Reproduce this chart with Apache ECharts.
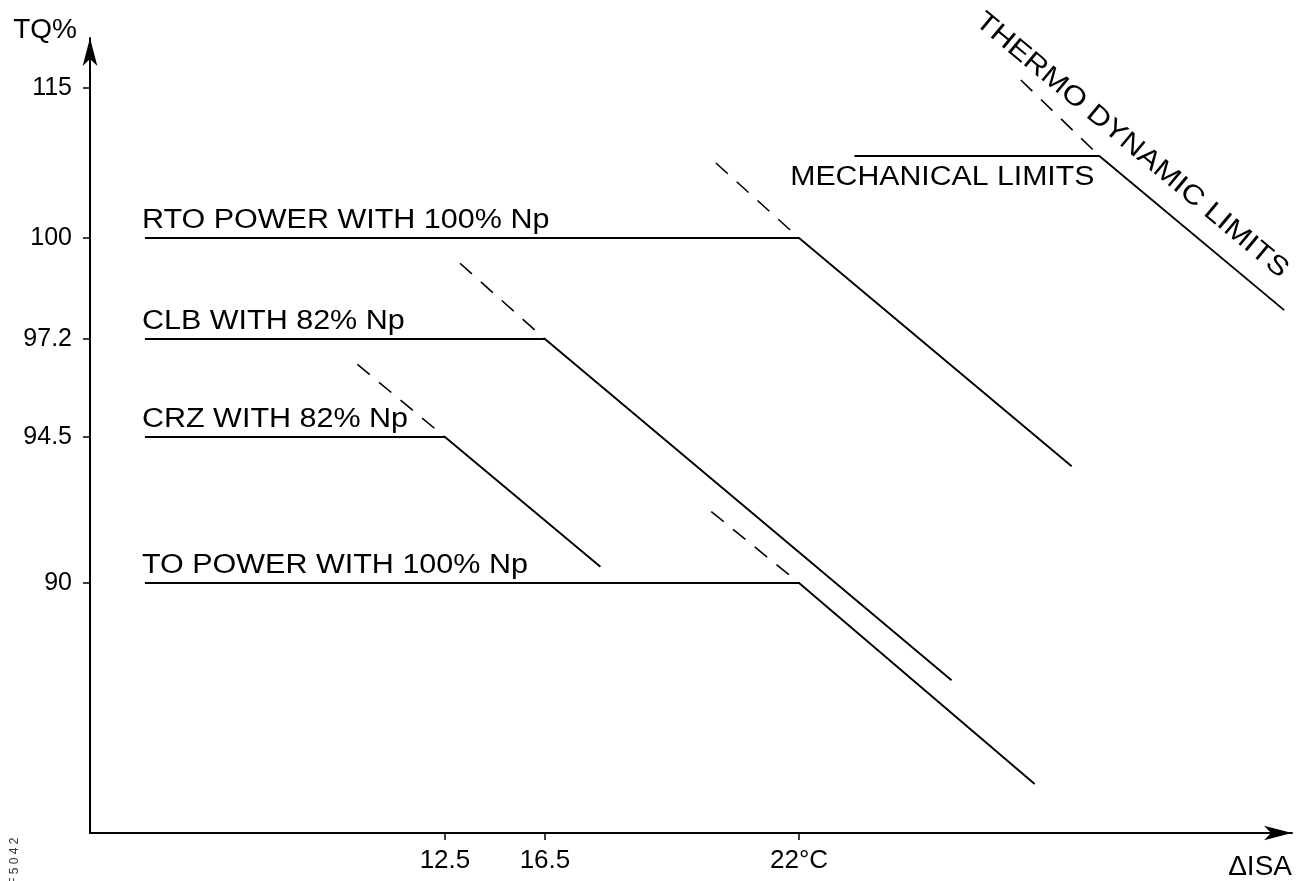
<!DOCTYPE html>
<html>
<head>
<meta charset="utf-8">
<script src="https://cdn.jsdelivr.net/npm/echarts@6/dist/echarts.min.js"></script>
<style>
html,body{margin:0;padding:0;background:#fff;}
#chart{width:1302px;height:881px;}
</style>
</head>
<body>
<div id="chart"></div>
<script>
// ---------- DATA (ΔISA in °C, TQ in %) ----------
const isaTickValues = [12.5, 16.5, 22];
const isaTickLabels = ['12.5', '16.5', '22°C'];
const tqTickValues  = [90, 94.5, 97.2, 100, 115];
const tqTickLabels  = ['90', '94.5', '97.2', '100', '115'];

const ratingNames        = ['RTO POWER WITH 100% Np', 'CLB WITH 82% Np', 'CRZ WITH 82% Np', 'TO POWER WITH 100% Np'];
const ratingTQ           = [100, 97.2, 94.5, 90];
const ratingStartIsa     = [0.5, 0.5, 0.5, 0.5];
const ratingKneeIsa      = [22, 16.5, 12.5, 22];
const ratingSlopeEndIsa  = [27.9, 25.3, 17.7, 27.1];
const ratingSlopeEndTQ   = [93.6, 87.0, 90.5, 83.8];
const ratingDashStartIsa = [20.2, 13.1, 9.0, 20.1];
const ratingDashStartTQ  = [107.5, 99.3, 96.5, 92.2];

const mechanicalIsa   = [23.2, 28.5];
const mechanicalTQ    = [108.2, 108.2];
const thermoIsa       = [28.5, 32.5];
const thermoTQ        = [108.2, 98.0];
const thermoDashIsa   = [26.8, 28.5];
const thermoDashTQ    = [115.8, 108.2];

const limitTexts = ['MECHANICAL LIMITS', 'THERMO DYNAMIC LIMITS'];
const figureId = 'F 5 0 4 2';

// ---------- schematic (non-linear) axis scales ----------
// The original diagram is not drawn to scale: each labelled value sits at a
// fixed fraction (0..100) of its axis; values in between are interpolated.
const isaScale = { values: [12.5, 16.5, 22], at: [29.53, 37.85, 58.99] };
const tqScale  = { values: [90, 94.5, 97.2, 100, 115], at: [31.45, 49.81, 62.14, 74.84, 93.71] };

function warp(v, s) {
  const n = s.values.length;
  let i = 0;
  while (i < n - 2 && v > s.values[i + 1]) i++;
  const v0 = s.values[i], v1 = s.values[i + 1], a0 = s.at[i], a1 = s.at[i + 1];
  return a0 + (v - v0) * (a1 - a0) / (v1 - v0);
}
const P = (isa, tq) => [warp(isa, isaScale), warp(tq, tqScale)];

// ---------- series ----------
const INK = '#000';
const series = [];

ratingTQ.forEach((tq, i) => {
  series.push({
    type: 'line', name: ratingNames[i], symbol: 'none', clip: false, silent: true,
    lineStyle: { color: INK, width: 1.9 },
    data: [P(ratingStartIsa[i], tq), P(ratingKneeIsa[i], tq), P(ratingSlopeEndIsa[i], ratingSlopeEndTQ[i])]
  });
  series.push({
    type: 'line', symbol: 'none', clip: false, silent: true,
    lineStyle: { color: INK, width: 1.6, type: [16, 12] },
    data: [P(ratingDashStartIsa[i], ratingDashStartTQ[i]), P(ratingKneeIsa[i], tq)]
  });
});

series.push({
  type: 'line', symbol: 'none', clip: false, silent: true,
  lineStyle: { color: INK, width: 1.9 },
  data: [P(mechanicalIsa[0], mechanicalTQ[0]), P(mechanicalIsa[1], mechanicalTQ[1]), P(thermoIsa[1], thermoTQ[1])]
});
series.push({
  type: 'line', symbol: 'none', clip: false, silent: true,
  lineStyle: { color: INK, width: 1.6, type: [16, 12] },
  data: [P(thermoDashIsa[0], thermoDashTQ[0]), P(thermoDashIsa[1], thermoDashTQ[1])]
});

// text labels anchored on the data
const FONT = 'Liberation Sans, Arial, Helvetica, sans-serif';
const labelData = [];
ratingTQ.forEach((tq, i) => labelData.push([...P(ratingStartIsa[i], tq), i, 0]));
labelData.push([...P(mechanicalIsa[1], mechanicalTQ[1]), 0, 1]);
labelData.push([...P(thermoIsa[0], thermoTQ[0]), 1, 2]);

series.push({
  type: 'custom', silent: true, clip: false,
  encode: { x: 0, y: 1 },
  data: labelData,
  renderItem(params, api) {
    const p = api.coord([api.value(0), api.value(1)]);
    const idx = api.value(2), kind = api.value(3);
    const base = { fontFamily: FONT, fontSize: 27, fill: INK };
    if (kind === 0) {
      return { type: 'text', x: p[0] - 3, y: p[1] - 17, scaleX: 1.13,
        style: Object.assign({ text: ratingNames[idx], align: 'left', verticalAlign: 'middle' }, base) };
    }
    if (kind === 1) {
      return { type: 'text', x: p[0] - 5, y: p[1] + 22, scaleX: 1.12,
        style: Object.assign({ text: limitTexts[idx], align: 'right', verticalAlign: 'middle' }, base) };
    }
    const p0 = api.coord(P(thermoIsa[0], thermoTQ[0]));
    const p1 = api.coord(P(thermoIsa[1], thermoTQ[1]));
    const dx = p1[0] - p0[0], dy = p1[1] - p0[1];
    const len = Math.hypot(dx, dy);
    const ux = dx / len, uy = dy / len;
    const nx = uy, ny = -ux;
    const cx = p0[0] + 18 * ux + 29 * nx;
    const cy = p0[1] + 18 * uy + 29 * ny;
    return { type: 'text', x: cx, y: cy, rotation: -Math.atan2(dy, dx), scaleX: 1.16,
      style: Object.assign({ text: limitTexts[idx], align: 'center', verticalAlign: 'middle' }, base) };
  }
});

// ---------- axes ----------
const isaTickPos = isaTickValues.map(v => warp(v, isaScale));
const tqTickPos  = tqTickValues.map(v => warp(v, tqScale));
const lookup = (posArr, labels) => (val) => {
  for (let i = 0; i < posArr.length; i++) if (Math.abs(posArr[i] - val) < 1e-6) return labels[i];
  return '';
};

const chart = echarts.init(document.getElementById('chart'), null, { renderer: 'canvas' });
chart.setOption({
  animation: false,
  backgroundColor: '#fff',
  grid: { left: 90, right: 10, top: 38, bottom: 48, containLabel: false },
  xAxis: {
    type: 'value', min: 0, max: 100,
    name: 'ΔISA', nameLocation: 'end', nameGap: 0,
    nameTextStyle: { fontFamily: FONT, fontSize: 28, color: INK, align: 'right', verticalAlign: 'top', padding: [20, 0, 0, 0] },
    axisLine: { show: true, onZero: false, symbol: ['none', 'arrow'], symbolSize: [11, 28], lineStyle: { color: INK, width: 2 } },
    axisTick: { show: true, inside: false, length: 7, customValues: isaTickPos, lineStyle: { color: INK, width: 1.5 } },
    axisLabel: { show: true, margin: 15, customValues: isaTickPos, formatter: lookup(isaTickPos, isaTickLabels),
      fontFamily: FONT, fontSize: 26, color: INK },
    splitLine: { show: false }
  },
  yAxis: {
    type: 'value', min: 0, max: 100,
    name: 'TQ%', nameLocation: 'end', nameGap: 8,
    nameTextStyle: { fontFamily: FONT, fontSize: 28, color: INK, align: 'right', verticalAlign: 'middle', padding: [0, 13, 0, 0] },
    axisLine: { show: true, onZero: false, symbol: ['none', 'arrow'], symbolSize: [11, 28], lineStyle: { color: INK, width: 2 } },
    axisTick: { show: true, inside: false, length: 7, customValues: tqTickPos, lineStyle: { color: INK, width: 1.5 } },
    axisLabel: { show: true, margin: 18, customValues: tqTickPos, formatter: lookup(tqTickPos, tqTickLabels),
      fontFamily: FONT, fontSize: 25, color: INK },
    splitLine: { show: false }
  },
  graphic: [{
    type: 'text', left: 9, bottom: -4, rotation: Math.PI / 2, silent: true,
    style: { text: figureId, fontFamily: FONT, fontSize: 12, fill: '#333' }
  }],
  series: series
});
</script>
</body>
</html>
